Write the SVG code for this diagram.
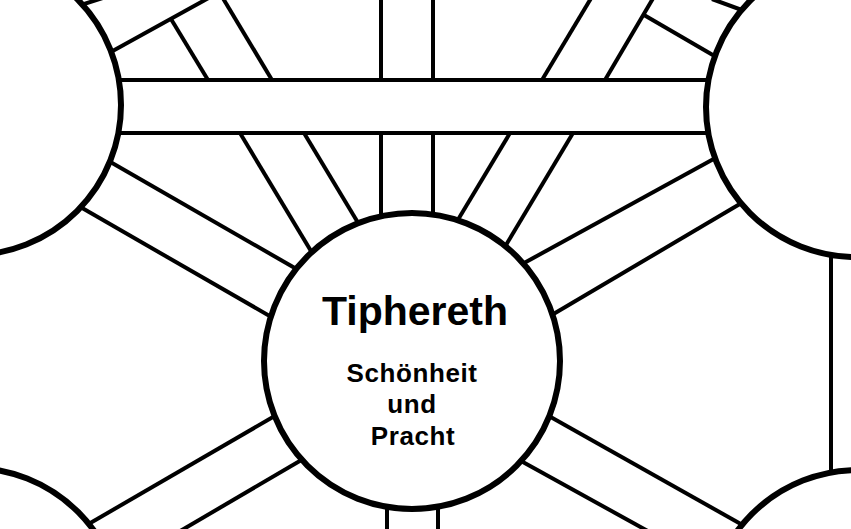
<svg xmlns="http://www.w3.org/2000/svg" width="851" height="529" viewBox="0 0 851 529">
<style>
.p{stroke:#000;stroke-width:4;fill:none;stroke-linecap:butt}
.n{fill:#fff;stroke:#000;stroke-width:6}
.t{font-family:"Liberation Sans",Arial,sans-serif;font-weight:bold;fill:#000;text-anchor:middle}
</style>
<rect width="851" height="529" fill="#fff"/>
<g id="connectors">
<!-- horizontal band -->
<line class="p" x1="100" y1="80" x2="730" y2="80"/>
<line class="p" x1="100" y1="133" x2="730" y2="133"/>
<!-- top vertical band -->
<line class="p" x1="381" y1="-5" x2="381" y2="80"/>
<line class="p" x1="381" y1="133" x2="381" y2="240"/>
<line class="p" x1="433" y1="-5" x2="433" y2="80"/>
<line class="p" x1="433" y1="133" x2="433" y2="240"/>
<!-- bottom vertical band -->
<line class="p" x1="387" y1="480" x2="387" y2="535"/>
<line class="p" x1="438" y1="480" x2="438" y2="535"/>
<!-- upper-left diagonal band -->
<line class="p" x1="171" y1="19" x2="208" y2="80"/>
<line class="p" x1="240" y1="133" x2="320" y2="266"/>
<line class="p" x1="221" y1="-5" x2="272" y2="80"/>
<line class="p" x1="304" y1="133" x2="366" y2="236"/>
<!-- left circle up-right band -->
<line class="p" x1="100" y1="58" x2="214" y2="-5"/>
<line class="p" x1="65" y1="10" x2="106" y2="-3"/>
<!-- upper-right diagonal band -->
<line class="p" x1="655" y1="-5" x2="605" y2="80"/>
<line class="p" x1="573" y1="133" x2="497" y2="260"/>
<line class="p" x1="593" y1="-5" x2="542" y2="80"/>
<line class="p" x1="510" y1="133" x2="450" y2="233"/>
<!-- right circle up-left band -->
<line class="p" x1="730" y1="65" x2="644" y2="15"/>
<line class="p" x1="750" y1="13" x2="712" y2="-1"/>
<!-- Geburah - Tiphereth -->
<line class="p" x1="100" y1="156" x2="300" y2="271"/>
<line class="p" x1="70" y1="201" x2="280" y2="322"/>
<!-- Chesed - Tiphereth -->
<line class="p" x1="730" y1="150" x2="515" y2="268"/>
<line class="p" x1="750" y1="198" x2="545" y2="319"/>
<!-- Tiphereth - Hod -->
<line class="p" x1="285" y1="410" x2="80" y2="529"/>
<line class="p" x1="310" y1="455" x2="170" y2="537"/>
<!-- Tiphereth - Netzach -->
<line class="p" x1="540" y1="411" x2="755" y2="532"/>
<line class="p" x1="512" y1="456" x2="655" y2="535"/>
<!-- right column -->
<line class="p" x1="831" y1="240" x2="831" y2="490"/>
</g>
<g id="geburah"><circle class="n" cx="-29" cy="105" r="150"/></g>
<g id="chesed"><circle class="n" cx="856" cy="107" r="150"/></g>
<g id="hod"><circle class="n" cx="-28" cy="618" r="150"/></g>
<g id="netzach"><circle class="n" cx="858" cy="620" r="150"/></g>
<g id="tiphereth">
<circle class="n" cx="412" cy="361" r="148"/>
<text class="t" x="415" y="325" font-size="41">Tiphereth</text>
<text class="t" x="412" y="382" font-size="26" letter-spacing="0.6">Schönheit</text>
<text class="t" x="412" y="413" font-size="26" letter-spacing="0.6">und</text>
<text class="t" x="413" y="445" font-size="26" letter-spacing="0.6">Pracht</text>
</g>
</svg>
